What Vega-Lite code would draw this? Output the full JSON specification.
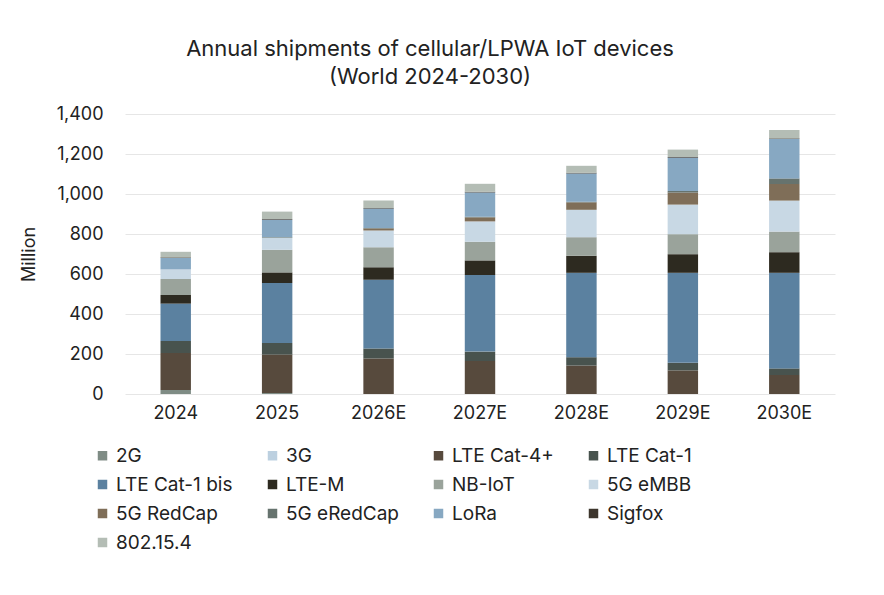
{
  "$schema": "https://vega.github.io/schema/vega-lite/v6.json",
  "width": 710,
  "height": 280,
  "background": "white",
  "padding": {"left": 20, "top": 38, "right": 20, "bottom": 5},
  "title": {"text": ["Annual shipments of cellular/LPWA IoT devices", "(World 2024-2030)"], "font": "Inter", "fontSize": 22, "fontWeight": "normal", "color": "#222", "offset": 16, "lineHeight": 28, "dx": -50},
  "data": {"values": [
    {"year": "2024", "tech": "2G", "o": 1, "v": 20}, {"year": "2024", "tech": "LTE Cat-4+", "o": 3, "v": 185}, {"year": "2024", "tech": "LTE Cat-1", "o": 4, "v": 60}, {"year": "2024", "tech": "LTE Cat-1 bis", "o": 5, "v": 187}, {"year": "2024", "tech": "LTE-M", "o": 6, "v": 43}, {"year": "2024", "tech": "NB-IoT", "o": 7, "v": 80}, {"year": "2024", "tech": "5G eMBB", "o": 8, "v": 48}, {"year": "2024", "tech": "LoRa", "o": 11, "v": 57}, {"year": "2024", "tech": "Sigfox", "o": 12, "v": 3}, {"year": "2024", "tech": "802.15.4", "o": 13, "v": 28},
    {"year": "2025", "tech": "2G", "o": 1, "v": 5}, {"year": "2025", "tech": "LTE Cat-4+", "o": 3, "v": 192}, {"year": "2025", "tech": "LTE Cat-1", "o": 4, "v": 58}, {"year": "2025", "tech": "LTE Cat-1 bis", "o": 5, "v": 300}, {"year": "2025", "tech": "LTE-M", "o": 6, "v": 53}, {"year": "2025", "tech": "NB-IoT", "o": 7, "v": 113}, {"year": "2025", "tech": "5G eMBB", "o": 8, "v": 60}, {"year": "2025", "tech": "5G eRedCap", "o": 10, "v": 3}, {"year": "2025", "tech": "LoRa", "o": 11, "v": 88}, {"year": "2025", "tech": "Sigfox", "o": 12, "v": 3}, {"year": "2025", "tech": "802.15.4", "o": 13, "v": 37},
    {"year": "2026E", "tech": "LTE Cat-4+", "o": 3, "v": 178}, {"year": "2026E", "tech": "LTE Cat-1", "o": 4, "v": 50}, {"year": "2026E", "tech": "LTE Cat-1 bis", "o": 5, "v": 343}, {"year": "2026E", "tech": "LTE-M", "o": 6, "v": 63}, {"year": "2026E", "tech": "NB-IoT", "o": 7, "v": 100}, {"year": "2026E", "tech": "5G eMBB", "o": 8, "v": 83}, {"year": "2026E", "tech": "5G RedCap", "o": 9, "v": 10}, {"year": "2026E", "tech": "5G eRedCap", "o": 10, "v": 3}, {"year": "2026E", "tech": "LoRa", "o": 11, "v": 97}, {"year": "2026E", "tech": "Sigfox", "o": 12, "v": 3}, {"year": "2026E", "tech": "802.15.4", "o": 13, "v": 37},
    {"year": "2027E", "tech": "LTE Cat-4+", "o": 3, "v": 165}, {"year": "2027E", "tech": "LTE Cat-1", "o": 4, "v": 47}, {"year": "2027E", "tech": "LTE Cat-1 bis", "o": 5, "v": 383}, {"year": "2027E", "tech": "LTE-M", "o": 6, "v": 73}, {"year": "2027E", "tech": "NB-IoT", "o": 7, "v": 93}, {"year": "2027E", "tech": "5G eMBB", "o": 8, "v": 102}, {"year": "2027E", "tech": "5G RedCap", "o": 9, "v": 20}, {"year": "2027E", "tech": "5G eRedCap", "o": 10, "v": 3}, {"year": "2027E", "tech": "LoRa", "o": 11, "v": 122}, {"year": "2027E", "tech": "Sigfox", "o": 12, "v": 3}, {"year": "2027E", "tech": "802.15.4", "o": 13, "v": 40},
    {"year": "2028E", "tech": "LTE Cat-4+", "o": 3, "v": 142}, {"year": "2028E", "tech": "LTE Cat-1", "o": 4, "v": 42}, {"year": "2028E", "tech": "LTE Cat-1 bis", "o": 5, "v": 422}, {"year": "2028E", "tech": "LTE-M", "o": 6, "v": 85}, {"year": "2028E", "tech": "NB-IoT", "o": 7, "v": 93}, {"year": "2028E", "tech": "5G eMBB", "o": 8, "v": 137}, {"year": "2028E", "tech": "5G RedCap", "o": 9, "v": 37}, {"year": "2028E", "tech": "5G eRedCap", "o": 10, "v": 3}, {"year": "2028E", "tech": "LoRa", "o": 11, "v": 142}, {"year": "2028E", "tech": "Sigfox", "o": 12, "v": 3}, {"year": "2028E", "tech": "802.15.4", "o": 13, "v": 35},
    {"year": "2029E", "tech": "LTE Cat-4+", "o": 3, "v": 118}, {"year": "2029E", "tech": "LTE Cat-1", "o": 4, "v": 38}, {"year": "2029E", "tech": "LTE Cat-1 bis", "o": 5, "v": 450}, {"year": "2029E", "tech": "LTE-M", "o": 6, "v": 93}, {"year": "2029E", "tech": "NB-IoT", "o": 7, "v": 100}, {"year": "2029E", "tech": "5G eMBB", "o": 8, "v": 148}, {"year": "2029E", "tech": "5G RedCap", "o": 9, "v": 60}, {"year": "2029E", "tech": "5G eRedCap", "o": 10, "v": 8}, {"year": "2029E", "tech": "LoRa", "o": 11, "v": 167}, {"year": "2029E", "tech": "Sigfox", "o": 12, "v": 3}, {"year": "2029E", "tech": "802.15.4", "o": 13, "v": 37},
    {"year": "2030E", "tech": "LTE Cat-4+", "o": 3, "v": 95}, {"year": "2030E", "tech": "LTE Cat-1", "o": 4, "v": 33}, {"year": "2030E", "tech": "LTE Cat-1 bis", "o": 5, "v": 478}, {"year": "2030E", "tech": "LTE-M", "o": 6, "v": 103}, {"year": "2030E", "tech": "NB-IoT", "o": 7, "v": 103}, {"year": "2030E", "tech": "5G eMBB", "o": 8, "v": 155}, {"year": "2030E", "tech": "5G RedCap", "o": 9, "v": 83}, {"year": "2030E", "tech": "5G eRedCap", "o": 10, "v": 28}, {"year": "2030E", "tech": "LoRa", "o": 11, "v": 197}, {"year": "2030E", "tech": "Sigfox", "o": 12, "v": 3}, {"year": "2030E", "tech": "802.15.4", "o": 13, "v": 42}
  ]},
  "mark": {"type": "bar"},
  "encoding": {
    "x": {"field": "year", "type": "nominal", "title": null, "scale": {"paddingInner": 0.7, "paddingOuter": 0.35},
      "axis": {"labelAngle": 0, "labelFontSize": 18, "labelFont": "Inter", "labelColor": "#222", "domain": false, "ticks": false, "labelPadding": 10}},
    "y": {"field": "v", "type": "quantitative", "aggregate": "sum", "title": "Million", "scale": {"domain": [0, 1400]},
      "axis": {"values": [0, 200, 400, 600, 800, 1000, 1200, 1400], "format": ",.0f", "labelFontSize": 18, "labelFont": "Inter", "labelColor": "#222", "titleFont": "Inter", "titleFontSize": 18, "titleFontWeight": "normal", "titleColor": "#222", "domain": false, "ticks": false, "gridColor": "#e6e6e6", "labelPadding": 22, "titlePadding": 18}},
    "order": {"field": "o", "type": "quantitative", "aggregate": "min"},
    "color": {"field": "tech", "type": "nominal",
      "scale": {
        "domain": ["2G", "3G", "LTE Cat-4+", "LTE Cat-1", "LTE Cat-1 bis", "LTE-M", "NB-IoT", "5G eMBB", "5G RedCap", "5G eRedCap", "LoRa", "Sigfox", "802.15.4"],
        "range": ["#7f8c85", "#bcd0e0", "#574a3d", "#48534e", "#5b81a0", "#2d2a20", "#9aa39b", "#c8d8e4", "#7f6e58", "#66736e", "#87a8c2", "#3d362d", "#b4bdb5"]
      },
      "legend": {"title": null, "orient": "none", "legendX": -32, "legendY": 332, "direction": "horizontal", "columns": 4, "symbolType": "square", "symbolSize": 90, "labelFontSize": 19, "labelFont": "Inter", "labelColor": "#222", "columnPadding": 30, "rowPadding": 9, "labelLimit": 300}
    }
  },
  "config": {"view": {"stroke": null}}
}
